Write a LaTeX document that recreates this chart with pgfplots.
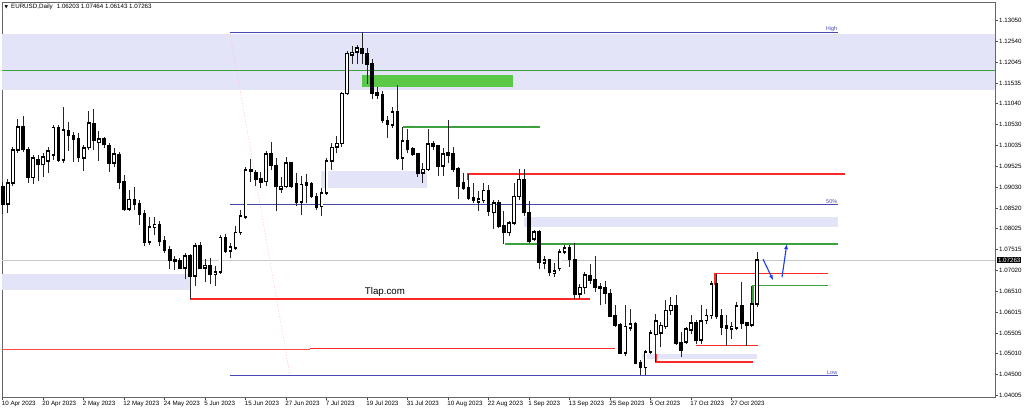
\documentclass[border=0pt]{standalone}
\usepackage{pgfplots}
\pgfplotsset{compat=1.18}
\usepackage{pgfplotstable}
\usepackage{fontspec}
\setmainfont{Liberation Sans}
\newfontfamily\symfont{DejaVu Sans}
\usetikzlibrary{arrows.meta}

\definecolor{lav}{RGB}{228,228,248}
\definecolor{mtgreen}{RGB}{60,160,60}
\definecolor{zonegreen}{RGB}{92,200,72}
\definecolor{mtred}{RGB}{255,40,40}
\definecolor{mtblue}{RGB}{72,72,176}
\definecolor{arrblue}{RGB}{25,60,240}
\definecolor{fibpink}{RGB}{250,200,205}

% EURUSD daily candles, bar index from 10 Apr 2023
\pgfplotstableread{
i O H L C
0 1.0903 1.0915 1.0837 1.0862
1 1.0862 1.0923 1.0840 1.0913
2 1.0913 1.0999 1.0905 1.0992
3 1.0992 1.1067 1.0985 1.1047
4 1.1047 1.1075 1.0988 1.0993
5 1.0993 1.1000 1.0913 1.0926
6 1.0926 1.0981 1.0910 1.0972
7 1.0968 1.0980 1.0917 1.0957
8 1.0957 1.0984 1.0928 1.0975
9 1.0966 1.1000 1.0936 1.0990
10 1.0980 1.1052 1.0968 1.1046
11 1.1045 1.1052 1.0963 1.0968
12 1.0968 1.1095 1.0960 1.1040
13 1.1038 1.1060 1.0990 1.1027
14 1.1027 1.1035 1.0964 1.1017
15 1.1019 1.1032 1.0964 1.0974
16 1.0973 1.1004 1.0942 1.0997
17 1.0998 1.1087 1.0992 1.1057
18 1.1056 1.1092 1.0992 1.1015
19 1.1010 1.1039 1.0966 1.1018
20 1.1018 1.1023 1.0998 1.1005
21 1.1003 1.1008 1.0940 1.0961
22 1.0961 1.0997 1.0952 1.0982
23 1.0981 1.0987 1.0897 1.0915
24 1.0915 1.0932 1.0845 1.0849
25 1.0850 1.0896 1.0844 1.0873
26 1.0873 1.0902 1.0848 1.0862
27 1.0862 1.0872 1.0812 1.0838
28 1.0839 1.0847 1.0760 1.0770
29 1.0770 1.0830 1.0762 1.0806
30 1.0805 1.0831 1.0786 1.0812
31 1.0812 1.0820 1.0760 1.0772
32 1.0772 1.0784 1.0743 1.0750
33 1.0751 1.0760 1.0706 1.0726
34 1.0726 1.0736 1.0703 1.0723
35 1.0724 1.0732 1.0704 1.0708
36 1.0708 1.0744 1.0680 1.0736
37 1.0737 1.0740 1.0633 1.0688
38 1.0688 1.0768 1.0664 1.0760
39 1.0760 1.0770 1.0704 1.0708
40 1.0708 1.0728 1.0673 1.0713
41 1.0712 1.0732 1.0668 1.0692
42 1.0692 1.0712 1.0664 1.0698
43 1.0698 1.0788 1.0692 1.0781
44 1.0781 1.0790 1.0744 1.0749
45 1.0748 1.0768 1.0732 1.0758
46 1.0756 1.0808 1.0751 1.0793
47 1.0793 1.0848 1.0786 1.0832
48 1.0830 1.0950 1.0825 1.0944
49 1.0944 1.0970 1.0916 1.0940
50 1.0936 1.0944 1.0904 1.0922
51 1.0922 1.0940 1.0900 1.0915
52 1.0916 1.0990 1.0905 1.0983
53 1.0983 1.1012 1.0944 1.0955
54 1.0955 1.0972 1.0844 1.0904
55 1.0898 1.0928 1.0888 1.0904
56 1.0904 1.0976 1.0900 1.0960
57 1.0960 1.0964 1.0900 1.0905
58 1.0910 1.0936 1.0858 1.0866
59 1.0866 1.0930 1.0836 1.0909
60 1.0908 1.0933 1.0864 1.0912
61 1.0911 1.0916 1.0876 1.0881
62 1.0880 1.0888 1.0848 1.0853
63 1.0856 1.0900 1.0832 1.0888
64 1.0888 1.0972 1.0884 1.0965
65 1.0965 1.1008 1.0944 1.0998
66 1.0999 1.1025 1.0984 1.1008
67 1.1008 1.1131 1.0999 1.1128
68 1.1128 1.1230 1.1125 1.1225
69 1.1222 1.1243 1.1199 1.1227
70 1.1229 1.1245 1.1199 1.1238
71 1.1236 1.1276 1.1199 1.1225
72 1.1225 1.1239 1.1151 1.1199
73 1.1199 1.1211 1.1115 1.1128
74 1.1130 1.1143 1.1115 1.1124
75 1.1124 1.1135 1.1058 1.1063
76 1.1063 1.1075 1.1020 1.1055
77 1.1053 1.1095 1.1045 1.1083
78 1.1083 1.1149 1.0968 1.0972
79 1.0973 1.1047 1.0944 1.1014
80 1.1014 1.1043 1.0984 1.0994
81 1.0994 1.1000 1.0977 1.0983
82 1.0983 1.0984 1.0928 1.0936
83 1.0936 1.0960 1.0912 1.0945
84 1.0945 1.1042 1.0942 1.1007
85 1.1008 1.1013 1.0992 1.1001
86 1.1001 1.1003 1.0930 1.0953
87 1.0953 1.0996 1.0930 1.0982
88 1.0980 1.1065 1.0960 1.0984
89 1.0982 1.1000 1.0940 1.0946
90 1.0946 1.0951 1.0874 1.0905
91 1.0912 1.0936 1.0896 1.0901
92 1.0901 1.0934 1.0872 1.0876
93 1.0877 1.0912 1.0864 1.0872
94 1.0867 1.0892 1.0844 1.0874
95 1.0870 1.0912 1.0864 1.0894
96 1.0894 1.0908 1.0832 1.0845
97 1.0841 1.0872 1.0802 1.0864
98 1.0864 1.0872 1.0804 1.0808
99 1.0808 1.0844 1.0765 1.0793
100 1.0793 1.0820 1.0784 1.0816
101 1.0816 1.0912 1.0810 1.0880
102 1.0880 1.0945 1.0872 1.0921
103 1.0921 1.0945 1.0832 1.0841
104 1.0841 1.0870 1.0768 1.0771
105 1.0777 1.0800 1.0772 1.0794
106 1.0794 1.0799 1.0704 1.0721
107 1.0720 1.0736 1.0704 1.0727
108 1.0727 1.0730 1.0688 1.0697
109 1.0695 1.0720 1.0686 1.0700
110 1.0706 1.0752 1.0700 1.0746
111 1.0746 1.0764 1.0740 1.0756
112 1.0756 1.0763 1.0710 1.0728
113 1.0728 1.0768 1.0632 1.0643
114 1.0645 1.0668 1.0633 1.0660
115 1.0660 1.0698 1.0645 1.0691
116 1.0689 1.0716 1.0668 1.0679
117 1.0679 1.0736 1.0649 1.0660
118 1.0662 1.0670 1.0617 1.0659
119 1.0659 1.0675 1.0621 1.0646
120 1.0646 1.0657 1.0589 1.0592
121 1.0592 1.0617 1.0565 1.0570
122 1.0570 1.0574 1.0501 1.0503
123 1.0503 1.0617 1.0496 1.0566
124 1.0563 1.0609 1.0555 1.0573
125 1.0572 1.0578 1.0475 1.0478
126 1.0479 1.0485 1.0448 1.0468
127 1.0467 1.0509 1.0450 1.0505
128 1.0505 1.0557 1.0500 1.0550
129 1.0547 1.0597 1.0481 1.0580
130 1.0551 1.0577 1.0516 1.0569
131 1.0566 1.0629 1.0560 1.0605
132 1.0605 1.0637 1.0595 1.0617
133 1.0617 1.0641 1.0521 1.0526
134 1.0528 1.0553 1.0493 1.0509
135 1.0529 1.0565 1.0524 1.0560
136 1.0558 1.0593 1.0548 1.0574
137 1.0576 1.0581 1.0525 1.0534
138 1.0534 1.0617 1.0525 1.0580
139 1.0581 1.0609 1.0572 1.0593
140 1.0593 1.0676 1.0585 1.0668
141 1.0668 1.0694 1.0585 1.0590
142 1.0591 1.0609 1.0545 1.0564
143 1.0568 1.0594 1.0520 1.0563
144 1.0560 1.0577 1.0537 1.0566
145 1.0563 1.0625 1.0557 1.0615
146 1.0615 1.0674 1.0561 1.0574
147 1.0575 1.0577 1.0520 1.0569
148 1.0570 1.0665 1.0566 1.0620
149 1.06203 1.07464 1.06143 1.07263
}\candles

\begin{document}
\begin{tikzpicture}[font=\fontsize{6.2bp}{7bp}\selectfont]
\useasboundingbox (0,0) rectangle (1024bp,412bp);
\begin{axis}[
    at={(2bp,15bp)}, anchor=south west,
    scale only axis, width=993bp, height=395bp,
    xmin=-0.14, xmax=196.03, ymin=1.03961, ymax=1.13491,
    clip=false,
    axis line style={draw=black!60, line width=0.8bp},
    xtick={0,8,...,144},
    xticklabels={10 Apr 2023,20 Apr 2023,2 May 2023,12 May 2023,24 May 2023,5 Jun 2023,15 Jun 2023,27 Jun 2023,7 Jul 2023,19 Jul 2023,31 Jul 2023,10 Aug 2023,22 Aug 2023,1 Sep 2023,13 Sep 2023,25 Sep 2023,5 Oct 2023,17 Oct 2023,27 Oct 2023},
    ytick={1.13050,1.12540,1.12045,1.11535,1.11040,1.10530,1.10035,1.09525,1.09030,1.08520,1.08025,1.07515,1.07020,1.06510,1.06015,1.05505,1.05010,1.04500,1.04005},
    yticklabels={1.13050,1.12540,1.12045,1.11535,1.11040,1.10530,1.10035,1.09525,1.09030,1.08520,1.08025,1.07515,1.07020,1.06510,1.06015,1.05505,1.05010,1.04500,1.04005},
    xtick pos=left, ytick pos=right, yticklabel pos=right,
    tick align=outside, major tick length=3bp,
    tick style={draw=black!70, line width=0.5bp},
    xticklabel style={anchor=north west, inner sep=0pt, xshift=-1bp, yshift=-1bp},
    yticklabel style={anchor=west, inner sep=0pt, xshift=1bp},
    level/.style={forget plot, mark=none, line width=1.5bp},
]

% zones
\fill[lav] (-0.14,1.11368) rectangle (196.03,1.12719);
\fill[lav] (-0.14,1.06540) rectangle (37.0,1.06926);
\fill[lav] (62.9,1.09004) rectangle (83.8,1.09414);
\fill[lav] (103.0,1.08063) rectangle (165.0,1.08304);
\fill[lav] (126.3,1.04879) rectangle (149.0,1.04999);
\fill[zonegreen] (71.0,1.11440) rectangle (100.8,1.11730);

% current price
\addplot[level, black!22, line width=0.6bp] coordinates {(-0.14,1.07263) (196.03,1.07263)};

% fibo
\addplot[level, fibpink, dash pattern=on 1.5bp off 1.5bp, line width=0.5bp] coordinates {(44.9,1.1276) (56.75,1.0448)};
\addplot[level, mtblue, line width=0.8bp] coordinates {(44.9,1.12760) (165.0,1.12760)};
\addplot[level, mtblue, line width=0.8bp] coordinates {(44.9,1.08606) (165.0,1.08606)};
\addplot[level, mtblue, line width=0.8bp] coordinates {(44.9,1.04480) (165.0,1.04480)};
\node[mtblue, anchor=south east, inner sep=0.5bp, font=\fontsize{5.5bp}{6bp}\selectfont] at (165.0,1.12760) {High};
\node[mtblue, anchor=south east, inner sep=0.5bp, font=\fontsize{5.5bp}{6bp}\selectfont] at (165.0,1.08606) {50\%};
\node[mtblue, anchor=south east, inner sep=0.5bp, font=\fontsize{5.5bp}{6bp}\selectfont] at (165.0,1.04480) {Low};

% levels
\addplot[level, mtgreen, line width=1.6bp] coordinates {(-0.14,1.11834) (196.03,1.11834)};
\addplot[level, mtgreen] coordinates {(79.1,1.10475) (106.1,1.10475)};
\addplot[level, mtgreen] coordinates {(99.2,1.07653) (165.0,1.07653)};
\addplot[level, mtgreen] coordinates {(148.2,1.06181) (148.2,1.06647) (163.0,1.06647)};
\addplot[level, mtred] coordinates {(91.9,1.09200) (91.9,1.09341) (166.4,1.09341)};
\addplot[level, mtred] coordinates {(140.7,1.06664) (140.7,1.06941) (163.0,1.06941)};
\addplot[level, mtred] coordinates {(37.0,1.06326) (116.0,1.06326)};
\addplot[level, mtred!85, line width=1.4bp] coordinates {(-0.14,1.05110) (60.7,1.05110)};
\addplot[level, mtred] coordinates {(60.7,1.05134) (121.0,1.05134)};
\addplot[level, mtred] coordinates {(137.0,1.05199) (149.2,1.05199)};
\addplot[level, mtred] coordinates {(129.1,1.05000) (129.1,1.04806) (148.2,1.04806)};

% candles: wicks, bodies, white fill of bull bodies
\addplot[forget plot, draw=none, mark=none,
    error bars/.cd, y dir=plus, y explicit, error mark=none,
    error bar style={draw=black!85, solid, line width=0.8bp}]
    table[x=i, y=L, y error expr=\thisrow{H}-\thisrow{L}] {\candles};
\addplot[forget plot, draw=none, mark=none,
    error bars/.cd, y dir=plus, y explicit, error mark=none,
    error bar style={draw=black, solid, line width=3.6bp}]
    table[x=i, y expr={min(\thisrow{O},\thisrow{C})-0.0002},
          y error expr={abs(\thisrow{C}-\thisrow{O})+0.0004}] {\candles};
\addplot[forget plot, draw=none, mark=none,
    error bars/.cd, y dir=plus, y explicit, error mark=none,
    error bar style={draw=white, solid, line width=2.0bp}]
    table[x=i, y expr={\thisrow{O}+0.0002},
          y error expr={max(\thisrow{C}-\thisrow{O}-0.0004,0)}] {\candles};

% arrows
\draw[arrblue, line width=1.1bp, -{Latex[length=5bp,width=4bp]}] (150.2,1.07287) -- (152.2,1.06779);
\draw[arrblue, line width=1.1bp, -{Latex[length=5bp,width=4bp]}] (153.95,1.06851) -- (154.9,1.07650);

% texts
\node[font=\fontsize{9.7bp}{11bp}\selectfont] at (75.5,1.06495) {Tlap.com};
\node[anchor=west, inner sep=0pt, xshift=2bp, fill=black, text=white, inner xsep=0.8bp, inner ysep=1bp] at (196.03,1.07263) {1.07263};
\node[anchor=west, inner sep=0pt, xshift=2.5bp, yshift=-5bp] at (rel axis cs:0,1) {{\symfont\fontsize{4.5bp}{5bp}\selectfont ▼}\hspace{3bp}EURUSD,Daily\hspace{4bp}1.06203 1.07464 1.06143 1.07263};
\end{axis}
\end{tikzpicture}
\end{document}
